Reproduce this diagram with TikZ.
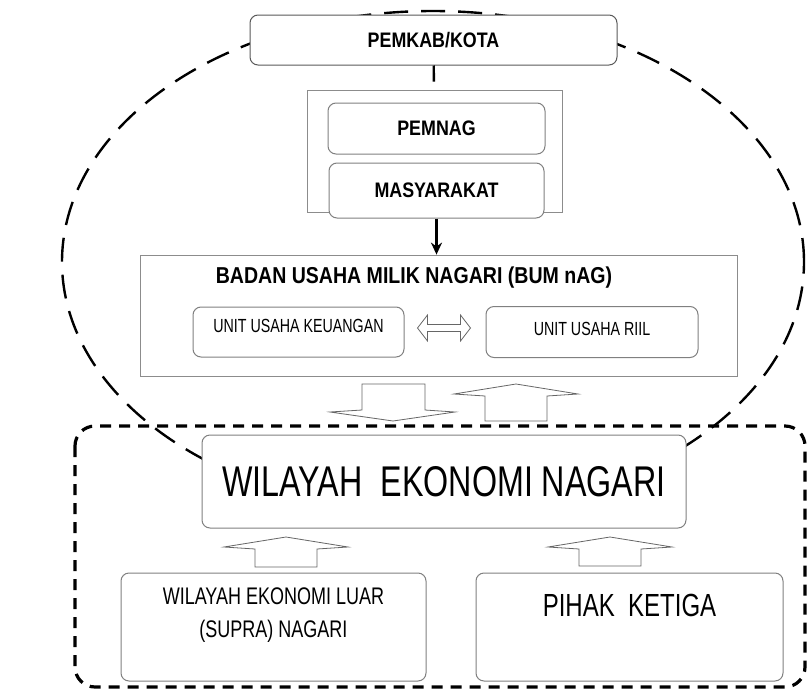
\documentclass[tikz,border=0pt]{standalone}
\usepackage{fontspec}
\newfontfamily\condsf[FakeStretch=0.75]{Liberation Sans}
\newfontfamily\condbf[FakeStretch=0.85]{Liberation Sans}
\newcommand{\pxsize}[1]{\fontsize{#1}{#1}\selectfont}
\usetikzlibrary{arrows.meta, positioning}

\begin{document}
\begin{tikzpicture}[x=1pt, y=-1pt,
    box/.style={rectangle, draw=black!50, line width=1pt, rounded corners=8pt,
                fill=white, align=center, inner sep=0pt},
    frame/.style={rectangle, draw=black!45, line width=0.8pt, fill=white, inner sep=0pt},
    head/.style={font=\condbf\bfseries\pxsize{21}},
    unit/.style={font=\condsf\pxsize{19}, text height=13.6pt},
    arr/.style={-{Stealth[length=12pt, width=11pt]}, line width=2.2pt},
    hollow/.style={draw=black!60, line width=0.8pt, fill=white},
    ring/.style={line width=2.4pt, dash pattern=on 24pt off 13pt},
    zone/.style={line width=3.2pt, dash pattern=on 11pt off 8pt, rounded corners=20pt}
  ]
  \useasboundingbox (0,0) rectangle (807,694);

  % dashed outlines
  \draw[ring] (433,262) ellipse [x radius=371pt, y radius=251pt];
  \draw[zone] (75,426) rectangle (805,687);

  % upper part
  \node[box, head, draw=black!65, minimum width=367pt, minimum height=50pt] (pemkab) at (433.5,40) {PEMKAB/KOTA};
  \node[frame, minimum width=255pt, minimum height=122pt] (grp) at (434.5,151) {};
  \node[box, head, minimum width=217pt, minimum height=51pt] (pemnag) at (436.5,128.5) {PEMNAG};
  \node[box, head, minimum width=215pt, minimum height=55pt, below=8pt of pemnag] (masy) {MASYARAKAT};

  % BUMNag
  \node[frame, minimum width=597pt, minimum height=121pt] (bum) at (438.5,315.5) {};
  \node[font=\condbf\bfseries\pxsize{23}, inner sep=0pt] (bumttl) at (414,278) {BADAN USAHA MILIK NAGARI (BUM nAG)};
  \node[box, unit, text depth=12pt, minimum width=211pt, minimum height=50pt] (keu) at (298.5,332) {UNIT USAHA KEUANGAN};
  \node[box, unit, text depth=6pt, minimum width=212pt, minimum height=51pt, right=81pt of keu] (riil) {UNIT USAHA RIIL};

  % lower part
  \node[box, font=\condsf\pxsize{43}, minimum width=484pt, minimum height=93pt] (wen) at (444,481.5) {WILAYAH\ \ EKONOMI NAGARI};
  \node[box, font=\condsf\pxsize{24}, text height=21.2pt, text depth=0pt, minimum width=305pt, minimum height=108pt] (luar) at (273.5,627) {WILAYAH EKONOMI LUAR\\[9pt](SUPRA) NAGARI};
  \node[box, font=\condsf\pxsize{32}, text height=22.9pt, text depth=44pt, minimum width=307pt, minimum height=108pt, right=49pt of luar] (pihak) {PIHAK\ \ KETIGA};

  % connectors
  \draw[line width=2.4pt, shorten >=8pt] (pemkab) -- (grp);
  \draw[arr] (masy.south) -- (masy.south |- bum.north);
  \path ([yshift=4pt]keu.east) ++(13,0) coordinate (dbl);
  \draw[hollow] (dbl) -- ++(10,-13) -- ++(0,9.5) -- ++(33,0) -- ++(0,-9.5) -- ++(10,13)
                -- ++(-10,13) -- ++(0,-9.5) -- ++(-33,0) -- ++(0,9.5) -- cycle;

  % hollow block arrows
  \draw[hollow] (362,384) -- (425,384) -- (425,410) -- (455,412) -- (393,421)
                -- (330,412) -- (362,410) -- cycle;
  \foreach \cx/\ty/\by in {516/384/421, 286/537/567, 610/537/566}
    \draw[hollow] (\cx-31,\by) -- (\cx-31,\ty+12) -- (\cx-62,\ty+10) -- (\cx,\ty)
                  -- (\cx+62,\ty+10) -- (\cx+31,\ty+12) -- (\cx+31,\by) -- cycle;
\end{tikzpicture}
\end{document}
